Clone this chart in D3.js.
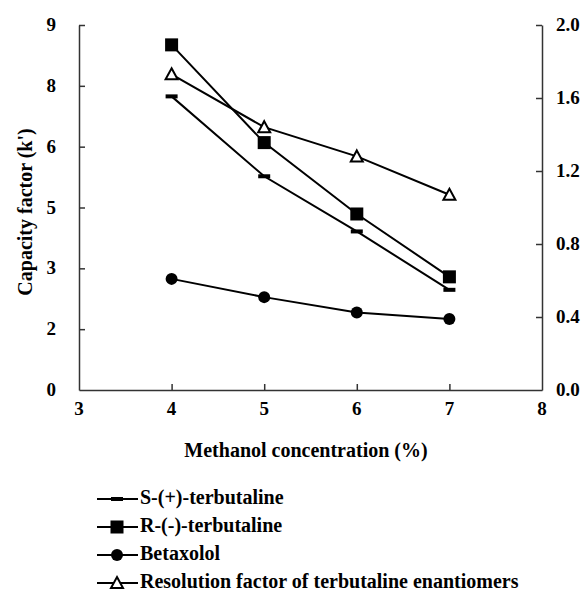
<!DOCTYPE html>
<html>
<head>
<meta charset="utf-8">
<script src="https://cdn.jsdelivr.net/npm/d3@7"></script>
<style>
  body { margin: 0; background: #fff; }
  svg text { font-family: "Liberation Serif", "Times New Roman", serif; font-weight: 700; }
</style>
</head>
<body>
<div id="chart"></div>
<script>
// data
var methanol = [4, 5, 6, 7];
var sTerb = [7.24, 5.27, 3.91, 2.47];
var rTerb = [8.51, 6.10, 4.34, 2.79];
var betaxolol = [2.74, 2.29, 1.91, 1.75];
var resolution = [1.73, 1.44, 1.28, 1.07];

var xTicks = [3, 4, 5, 6, 7, 8];
var yLeftTicks = [0, 1.5, 3, 4.5, 6, 7.5, 9];
var yRightTicks = [0, 0.4, 0.8, 1.2, 1.6, 2.0];

var width = 583, height = 594;
var margin = {left: 79, right: 41, top: 25, bottom: 204};

var svg = d3.select("#chart").append("svg")
    .attr("width", width)
    .attr("height", height);

var x = d3.scaleLinear().domain([3, 8]).range([margin.left, width - margin.right]);
var yL = d3.scaleLinear().domain([0, 9]).range([height - margin.bottom, margin.top]);
var yR = d3.scaleLinear().domain([0, 2]).range([height - margin.bottom, margin.top]);

var bottomY = height - margin.bottom;

// axes, ticks pointing inward
svg.append("g")
    .attr("transform", `translate(0,${bottomY})`)
    .call(d3.axisTop(x).tickValues([4, 5, 6, 7]).tickSizeInner(6).tickSizeOuter(0).tickFormat(""));
svg.append("g")
    .attr("transform", `translate(${margin.left},0)`)
    .call(d3.axisRight(yL).tickValues(yLeftTicks.slice(1)).tickSizeInner(6).tickSizeOuter(0).tickFormat(""));
svg.append("g")
    .attr("transform", `translate(${width - margin.right},0)`)
    .call(d3.axisLeft(yR).tickValues(yRightTicks.slice(1)).tickSizeInner(6).tickSizeOuter(0).tickFormat(""));

svg.selectAll(".domain, .tick line").attr("stroke", "#333").attr("stroke-width", 1.5);

// tick labels (left axis steps by 1.5, shown rounded like the original)
svg.selectAll(".xlab").data(xTicks).enter().append("text")
    .attr("x", d => x(d)).attr("y", bottomY + 25)
    .attr("text-anchor", "middle").style("font-size", "19px")
    .text(d => d);

svg.selectAll(".ylab").data(yLeftTicks).enter().append("text")
    .attr("x", 56).attr("y", d => yL(d) + 6)
    .attr("text-anchor", "end").style("font-size", "19px")
    .text(d => Math.round(d + 0.01));

svg.selectAll(".rlab").data(yRightTicks).enter().append("text")
    .attr("x", 556).attr("y", d => yR(d) + 6)
    .attr("text-anchor", "start").style("font-size", "19px")
    .text(d => d3.format(".1f")(d));

// axis titles
svg.append("text")
    .attr("transform", `translate(32,212)rotate(-90)`)
    .attr("text-anchor", "middle").style("font-size", "20px")
    .text("Capacity factor (k')");

svg.append("text")
    .attr("x", 306).attr("y", 457)
    .attr("text-anchor", "middle").style("font-size", "20px")
    .text("Methanol concentration (%)");

// series
var series = [
    {name: "S-(+)-terbutaline", values: sTerb, y: yL, marker: "dash"},
    {name: "R-(-)-terbutaline", values: rTerb, y: yL, marker: "square"},
    {name: "Betaxolol", values: betaxolol, y: yL, marker: "circle"},
    {name: "Resolution factor of terbutaline enantiomers", values: resolution, y: yR, marker: "triangle"}
];

function drawMarker(g, type, cx, cy) {
    if (type === "dash") {
        g.append("rect").attr("x", cx - 6).attr("y", cy - 2).attr("width", 12).attr("height", 4).attr("fill", "#000");
    } else if (type === "square") {
        g.append("rect").attr("x", cx - 6.5).attr("y", cy - 6.5).attr("width", 13).attr("height", 13).attr("fill", "#000");
    } else if (type === "circle") {
        g.append("circle").attr("cx", cx).attr("cy", cy).attr("r", 6).attr("fill", "#000");
    } else {
        g.append("path")
            .attr("d", `M${cx},${cy - 6}L${cx + 6},${cy + 5}L${cx - 6},${cy + 5}Z`)
            .attr("fill", "#fff").attr("stroke", "#000").attr("stroke-width", 2);
    }
}

var line = d3.line();

series.forEach(s => {
    var pts = methanol.map((m, i) => [x(m), s.y(s.values[i])]);
    svg.append("path")
        .attr("d", line(pts))
        .attr("fill", "none").attr("stroke", "#000").attr("stroke-width", 2);
    var g = svg.append("g");
    pts.forEach(p => drawMarker(g, s.marker, p[0], p[1]));
});

// legend
var legendY = [499, 527, 555, 583];
series.forEach((s, i) => {
    var g = svg.append("g");
    g.append("line")
        .attr("x1", 97).attr("x2", 138)
        .attr("y1", legendY[i]).attr("y2", legendY[i])
        .attr("stroke", "#000").attr("stroke-width", 2);
    drawMarker(g, s.marker, 117, legendY[i]);
    g.append("text")
        .attr("x", 140).attr("y", legendY[i] + 5)
        .style("font-size", "20px")
        .text(s.name);
});
</script>
</body>
</html>
